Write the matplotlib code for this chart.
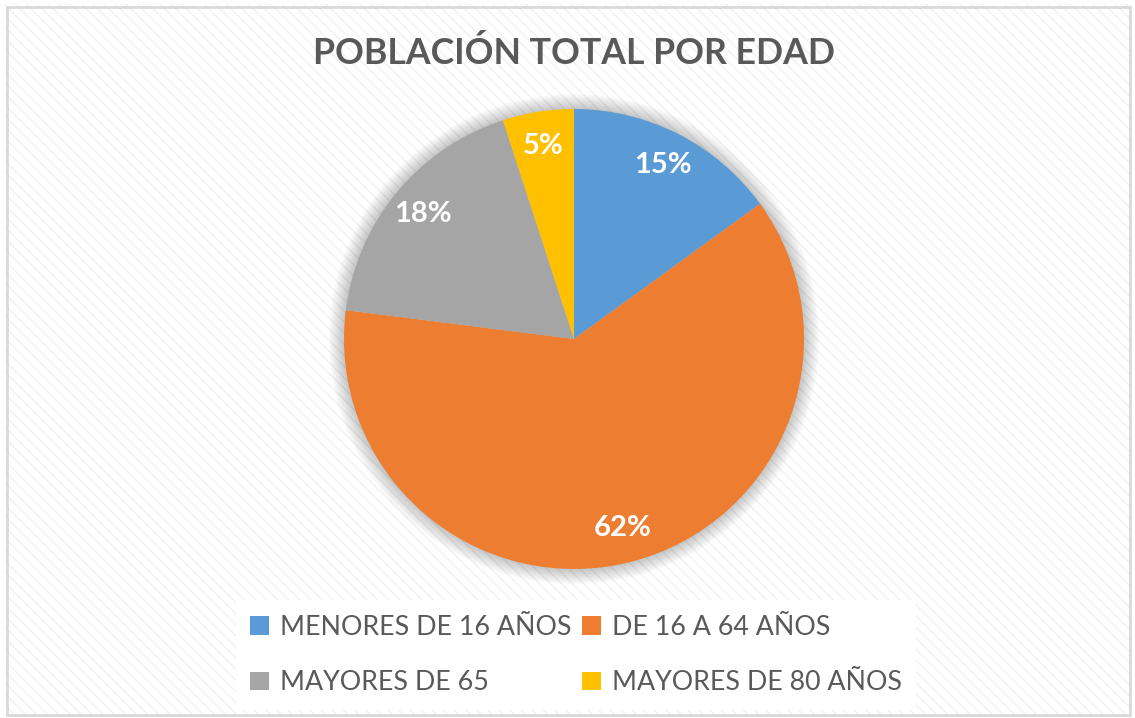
import matplotlib
matplotlib.use("Agg")
import matplotlib.pyplot as plt
from matplotlib.patches import Rectangle, Circle

plt.rcParams['font.family'] = ['Lato', 'DejaVu Sans']
plt.rcParams['hatch.color'] = "#f0f0f0"

# Datos
categorias = ["MENORES DE 16 AÑOS", "DE 16 A 64 AÑOS", "MAYORES DE 65", "MAYORES DE 80 AÑOS"]
valores = [15, 62, 18, 5]
colores = ["#5b9bd5", "#ed7d31", "#a5a5a5", "#ffc000"]
titulo = "POBLACIÓN TOTAL POR EDAD"

W, H = 1135, 718
fig = plt.figure(figsize=(W / 100, H / 100), dpi=100)
fig.patch.set_facecolor("white")

# Fondo rayado y borde
bg = Rectangle((0.004, 0.004), 0.992, 0.99, transform=fig.transFigure,
               facecolor="white", edgecolor="#f1f1f1", hatch="\\\\\\", linewidth=0,
               zorder=-10)
fig.patches.append(bg)
borde = Rectangle((0.006, 0.004), 0.99, 0.986, transform=fig.transFigure,
                  facecolor="none", edgecolor="#d9d9d9", linewidth=2, zorder=-9)
fig.patches.append(borde)

cx, cy, r = 574 / W, 1 - 339 / H, 230
ax = fig.add_axes([cx - r / W, cy - r / H, 2 * r / W, 2 * r / H])

# Sombra suave
for i in range(12):
    ax.add_patch(Circle((0, 0), 1.0 + 0.006 * i, facecolor="#000000",
                        alpha=0.018, edgecolor="none", zorder=0, clip_on=False))

wedges, texts, autotexts = ax.pie(
    valores, colors=colores, startangle=90, counterclock=False,
    autopct="%1.0f%%", pctdistance=0.85, radius=1.0,
    wedgeprops=dict(linewidth=0, zorder=2),
    textprops=dict(color="white", fontsize=21, fontweight="bold"))
for t in autotexts:
    t.set_zorder(5)
ax.set_xlim(-1, 1)
ax.set_ylim(-1, 1)
ax.axis("off")

fig.text(cx, 1 - 53 / H, titulo, ha="center", va="center",
         fontsize=25.7, fontweight="bold", color="#595959")

# orden por filas en la leyenda
orden = [0, 2, 1, 3]
leg = fig.legend([wedges[i] for i in orden], [categorias[i] for i in orden],
                 loc="center", ncol=2,
                 bbox_to_anchor=(576 / W, 1 - 655 / H),
                 frameon=True, fontsize=19.3, handlelength=0.7, handleheight=0.7,
                 handletextpad=0.4, columnspacing=0.4, labelspacing=1.15,
                 borderpad=0.55)
leg.get_frame().set_facecolor("white")
leg.get_frame().set_edgecolor("none")
leg.get_frame().set_alpha(1)
for t in leg.get_texts():
    t.set_color("#595959")

fig.savefig("out.png", dpi=100)
